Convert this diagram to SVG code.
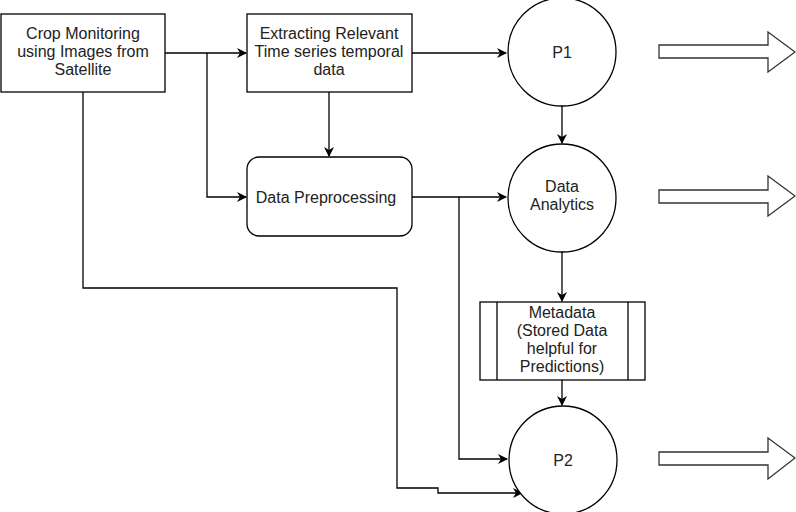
<svg xmlns="http://www.w3.org/2000/svg" width="796" height="512" viewBox="0 0 796 512">
<defs>
<style>
.n{fill:#fff;stroke:#000;stroke-width:1.3}
.c{fill:none;stroke:#000;stroke-width:1.3}
.t{font-family:"Liberation Sans",Arial,sans-serif;font-size:16px;fill:#222;text-anchor:middle}
.ba{fill:#fff;stroke:#333;stroke-width:1.3}
</style>
<marker id="ah" viewBox="0 0 10 10" refX="9" refY="5" markerWidth="10" markerHeight="10" markerUnits="userSpaceOnUse" orient="auto">
<path d="M0,0 L10,5 L0,10 L3,5 Z" fill="#000"/>
</marker>
</defs>
<rect width="796" height="512" fill="#fff"/>
<g id="connectors">
<path class="c" d="M165,53 H246" marker-end="url(#ah)"/>
<path class="c" d="M207,53 V197 H246" marker-end="url(#ah)"/>
<path class="c" d="M329,92 V156" marker-end="url(#ah)"/>
<path class="c" d="M412,53 H506" marker-end="url(#ah)"/>
<path class="c" d="M562,106 V143" marker-end="url(#ah)"/>
<path class="c" d="M412,197 H506" marker-end="url(#ah)"/>
<path class="c" d="M459,197 V459 H507" marker-end="url(#ah)"/>
<path class="c" d="M562,252 V301" marker-end="url(#ah)"/>
<path class="c" d="M562,380 V405" marker-end="url(#ah)"/>
<path class="c" d="M83,92 V288 H397 V488 H438 V493 H522" marker-end="url(#ah)"/>
</g>
<g id="crop">
<rect class="n" x="1" y="14" width="164" height="78"/>
<text class="t" x="83" y="39">Crop Monitoring</text>
<text class="t" x="83" y="57">using Images from</text>
<text class="t" x="83" y="75">Satellite</text>
</g>
<g id="extract">
<rect class="n" x="247" y="14" width="165" height="78"/>
<text class="t" x="329" y="39">Extracting Relevant</text>
<text class="t" x="329" y="57">Time series temporal</text>
<text class="t" x="329" y="75">data</text>
</g>
<g id="preprocess">
<rect class="n" x="247" y="157" width="165" height="79" rx="12"/>
<text class="t" x="326" y="203">Data Preprocessing</text>
</g>
<g id="p1">
<circle class="n" cx="562" cy="52" r="54"/>
<text class="t" x="562" y="58">P1</text>
</g>
<g id="analytics">
<circle class="n" cx="562" cy="198" r="54"/>
<text class="t" x="562" y="192">Data</text>
<text class="t" x="562" y="210">Analytics</text>
</g>
<g id="metadata">
<rect class="n" x="480" y="302" width="165" height="78"/>
<line class="c" x1="497" y1="302" x2="497" y2="380"/>
<line class="c" x1="628" y1="302" x2="628" y2="380"/>
<text class="t" x="562" y="318">Metadata</text>
<text class="t" x="562" y="336">(Stored Data</text>
<text class="t" x="562" y="354">helpful for</text>
<text class="t" x="562" y="372">Predictions)</text>
</g>
<g id="p2">
<circle class="n" cx="563" cy="460" r="54"/>
<text class="t" x="563" y="466">P2</text>
</g>
<g id="out1">
<path class="ba" d="M659,45 H768 V32 L795,52 L768,72 V58 H659 Z"/>
</g>
<g id="out2">
<path class="ba" d="M659,190 H768 V176 L795,196 L768,216 V203 H659 Z"/>
</g>
<g id="out3">
<path class="ba" d="M659,452 H768 V438 L795,458 L768,479 V465 H659 Z"/>
</g>
</svg>
